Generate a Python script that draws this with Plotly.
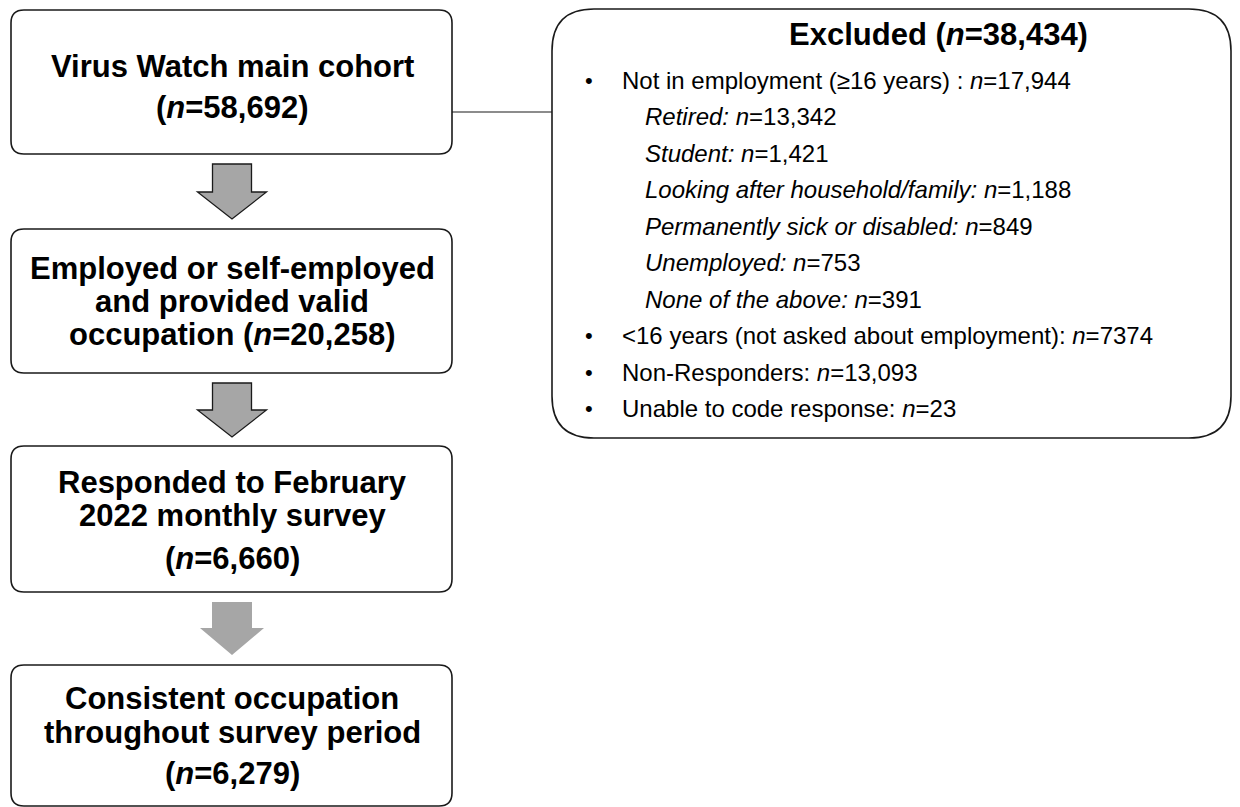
import plotly.graph_objects as go

# ---- data ----
box_lines = [
    ["Virus Watch main cohort"],
    ["Employed or self-employed", "and provided valid", "occupation"],
    ["Responded to February", "2022 monthly survey"],
    ["Consistent occupation", "throughout survey period"],
]
box_counts = ["58,692", "20,258", "6,660", "6,279"]
excluded_total = "38,434"
excluded_main = [
    ("Not in employment (≥16 years) : ", "17,944"),
    ("<16 years (not asked about employment): ", "7374"),
    ("Non-Responders: ", "13,093"),
    ("Unable to code response: ", "23"),
]
not_employed_sub = [
    ("Retired: ", "13,342"),
    ("Student: ", "1,421"),
    ("Looking after household/family: ", "1,188"),
    ("Permanently sick or disabled: ", "849"),
    ("Unemployed: ", "753"),
    ("None of the above: ", "391"),
]

# ---- layout geometry ----
W, H = 1240, 807
FONT = "Liberation Sans, Arial, sans-serif"
boxes = [(11, 10, 452, 154), (11, 229, 452, 373), (11, 446, 452, 592), (11, 665, 452, 806)]
# text line centers per box (last entry = count line)
box_text_y = [
    [66, 107],
    [268, 301, 334],
    [482, 515, 558],
    [698, 732, 773],
]
arrows = [  # (top, wing_y, tip, shaft half, wing half, outlined)
    (164, 192, 219, 19.5, 34.5, True),
    (383, 410, 437, 19.5, 34.5, True),
    (602, 628, 655, 20, 32, False),
]
cx = 232
ex_box = (552, 9, 1231, 438)


def rrect(x0, y0, x1, y1, r):
    return (f"M{x0+r},{y0} L{x1-r},{y0} Q{x1},{y0} {x1},{y0+r} "
            f"L{x1},{y1-r} Q{x1},{y1} {x1-r},{y1} L{x0+r},{y1} "
            f"Q{x0},{y1} {x0},{y1-r} L{x0},{y0+r} Q{x0},{y0} {x0+r},{y0} Z")


fig = go.Figure()
shapes = []
annotations = []

for (x0, y0, x1, y1) in boxes:
    shapes.append(dict(type="path", path=rrect(x0, y0, x1, y1, 13),
                       line=dict(color="#1a1a1a", width=1.6), fillcolor="white",
                       xref="x", yref="y", layer="below"))

for (top, wy, tip, sh, wh, outl) in arrows:
    p = (f"M{cx-sh},{top} L{cx+sh},{top} L{cx+sh},{wy} L{cx+wh},{wy} "
         f"L{cx},{tip} L{cx-wh},{wy} L{cx-sh},{wy} Z")
    shapes.append(dict(type="path", path=p, fillcolor="#A6A6A6",
                       line=dict(color="#1a1a1a" if outl else "rgba(0,0,0,0)",
                                 width=1.3 if outl else 0),
                       xref="x", yref="y"))

shapes.append(dict(type="line", x0=452, x1=552, y0=112, y1=112,
                   line=dict(color="#1a1a1a", width=1.2), xref="x", yref="y"))
shapes.append(dict(type="path", path=rrect(*ex_box, 42),
                   line=dict(color="#1a1a1a", width=1.6), fillcolor="white",
                   xref="x", yref="y", layer="below"))

# left boxes text
for i, lines in enumerate(box_lines):
    ys = box_text_y[i]
    texts = list(lines)
    if i == 1:
        texts[-1] = f"{texts[-1]} (<i>n</i>={box_counts[i]})"
        allt = texts
    else:
        allt = texts + [f"(<i>n</i>={box_counts[i]})"]
    for t, y in zip(allt, ys):
        annotations.append(dict(x=232, y=y, text=f"<b>{t}</b>", showarrow=False,
                                xanchor="center", yanchor="middle",
                                font=dict(family=FONT, size=31, color="black"),
                                xref="x", yref="y"))

# excluded box text
annotations.append(dict(x=938, y=34, text=f"<b>Excluded (<i>n</i>={excluded_total})</b>",
                        showarrow=False, xanchor="center", yanchor="middle",
                        font=dict(family=FONT, size=31, color="black"), xref="x", yref="y"))

step = 36.5
rows = []
rows.append(("bullet", excluded_main[0]))
for s in not_employed_sub:
    rows.append(("sub", s))
for m in excluded_main[1:]:
    rows.append(("bullet", m))

y = 80
for kind, (label, val) in rows:
    if kind == "bullet":
        annotations.append(dict(x=583, y=y, text="•", showarrow=False, xanchor="left",
                                yanchor="middle", font=dict(family=FONT, size=22, color="black"),
                                xref="x", yref="y"))
        txt = f"{label}<i>n</i>={val}"
        x = 620
    else:
        txt = f"<i>{label}</i><i>n</i>={val}"
        x = 643
    annotations.append(dict(x=x, y=y, text=txt, showarrow=False, xanchor="left",
                            yanchor="middle", font=dict(family=FONT, size=24, color="black"),
                            xref="x", yref="y"))
    y += step

fig.update_layout(
    width=W, height=H,
    margin=dict(l=0, r=0, t=0, b=0),
    paper_bgcolor="white", plot_bgcolor="white",
    xaxis=dict(range=[0, W], visible=False, fixedrange=True),
    yaxis=dict(range=[H, 0], visible=False, fixedrange=True),
    shapes=shapes, annotations=annotations, showlegend=False,
)
fig.write_html("out.html", config={"displayModeBar": False},
               post_script="document.body.style.margin='0px';document.body.style.overflow='hidden';")
